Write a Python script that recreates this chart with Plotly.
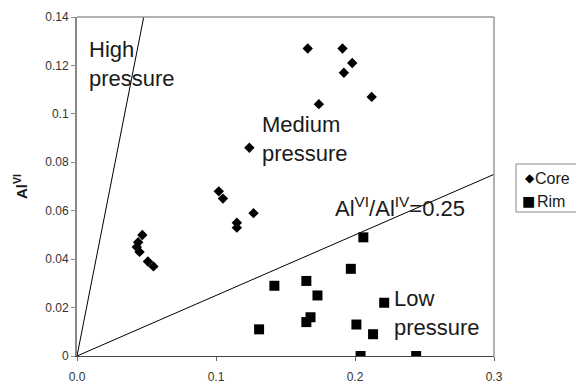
import plotly.graph_objects as go

# Core (diamonds)
core_x = [0.166, 0.191, 0.198, 0.192, 0.212, 0.174, 0.124, 0.102, 0.105, 0.115, 0.115, 0.127,
          0.047, 0.044, 0.043, 0.045, 0.051, 0.055]
core_y = [0.127, 0.127, 0.121, 0.117, 0.107, 0.104, 0.086, 0.068, 0.065, 0.055, 0.053, 0.059,
          0.050, 0.047, 0.045, 0.043, 0.039, 0.037]
# Rim (squares)
rim_x = [0.206, 0.197, 0.142, 0.165, 0.173, 0.221, 0.168, 0.165, 0.131, 0.201, 0.213, 0.204, 0.244]
rim_y = [0.049, 0.036, 0.029, 0.031, 0.025, 0.022, 0.016, 0.014, 0.011, 0.013, 0.009, 0.000, 0.000]

# Boundary lines
high_x = [0.0, 0.048]
high_y = [0.0, 0.14]
low_x = [0.0, 0.3]
low_y = [0.0, 0.075]

xtick_vals = [0.0, 0.1, 0.2, 0.3]
xtick_text = ["0.0", "0.1", "0.2", "0.3"]
ytick_vals = [0, 0.02, 0.04, 0.06, 0.08, 0.1, 0.12, 0.14]
ytick_text = ["0", "0.02", "0.04", "0.06", "0.08", "0.1", "0.12", "0.14"]

legend_names = ["Core", "Rim"]
legend_glyphs = ["◆", "■"]

FONT = "Liberation Sans, Arial, sans-serif"
TXT = "#1a1a1a"

# plot-area pixel geometry (for paper-coordinate placement of text)
L, R, T, B = 77, 494, 17, 356
def px(x):
    return (x - L) / (R - L)
def py(y):
    return (B - y) / (B - T)

fig = go.Figure()
fig.add_trace(go.Scatter(x=high_x, y=high_y, mode="lines", line=dict(color="black", width=1),
                         showlegend=False, hoverinfo="skip"))
fig.add_trace(go.Scatter(x=low_x, y=low_y, mode="lines", line=dict(color="black", width=1),
                         showlegend=False, hoverinfo="skip"))
fig.add_trace(go.Scatter(x=core_x, y=core_y, mode="markers", name=legend_names[0],
                         marker=dict(symbol="diamond", size=8, color="black")))
fig.add_trace(go.Scatter(x=rim_x, y=rim_y, mode="markers", name=legend_names[1],
                         marker=dict(symbol="square", size=10, color="black")))

ann = dict(xref="paper", yref="paper", showarrow=False, align="left",
           font=dict(family=FONT, size=22, color=TXT), xanchor="left", yanchor="middle")
fig.add_annotation(x=px(87), y=py(64), text="High<br>pressure", **ann)
fig.add_annotation(x=px(260), y=py(139), text="Medium<br>pressure", **ann)
fig.add_annotation(x=px(392), y=py(313), text="Low<br>pressure", **ann)
fig.add_annotation(x=px(333), y=py(207), text="Al<sup>VI</sup>/Al<sup>IV</sup>=0.25", **ann)

# Excel-style legend (box + glyph + label)
leg = dict(xref="paper", yref="paper", showarrow=False, xanchor="left", yanchor="middle")
fig.add_annotation(x=px(523), y=py(178), text=legend_glyphs[0],
                   font=dict(family="DejaVu Sans", size=12, color="black"), **leg)
fig.add_annotation(x=px(533), y=py(178), text=legend_names[0],
                   font=dict(family=FONT, size=16, color=TXT), **leg)
fig.add_annotation(x=px(520), y=py(201), text=legend_glyphs[1],
                   font=dict(family="DejaVu Sans", size=14, color="black"), **leg)
fig.add_annotation(x=px(535), y=py(201), text=legend_names[1],
                   font=dict(family=FONT, size=16, color=TXT), **leg)

fig.update_layout(
    width=576, height=383,
    margin=dict(l=L, r=576 - R, t=T, b=383 - B, autoexpand=False),
    paper_bgcolor="white", plot_bgcolor="white",
    font=dict(family=FONT, color=TXT),
    showlegend=False,
    xaxis=dict(range=[0, 0.3], tickvals=xtick_vals, ticktext=xtick_text,
               showgrid=False, zeroline=False, showline=True, linecolor="#444", linewidth=1,
               mirror=False, ticks="outside", ticklen=4, tickcolor="#666",
               ticklabelstandoff=6, automargin=False,
               tickfont=dict(family=FONT, size=12, color="#333")),
    yaxis=dict(range=[0, 0.14], tickvals=ytick_vals, ticktext=ytick_text,
               showgrid=False, zeroline=False, showline=True, linecolor="#888", linewidth=2,
               ticks="outside", ticklen=4, tickcolor="#888", automargin=False,
               tickfont=dict(family=FONT, size=12, color="#333"),
               title=dict(text="<b>Al<sup>VI</sup></b>", font=dict(family=FONT, size=15, color=TXT),
                          standoff=14)),
    shapes=[
        dict(type="line", xref="paper", yref="paper", x0=0, x1=1, y0=1, y1=1,
             line=dict(color="#999", width=1.5)),
        dict(type="line", xref="paper", yref="paper", x0=1, x1=1, y0=0, y1=1,
             line=dict(color="#999", width=1.5)),
        dict(type="rect", xref="paper", yref="paper", x0=px(516), x1=px(590),
             y0=py(212), y1=py(164), line=dict(color="#888", width=1)),
    ],
)

fig.write_html("out.html")
